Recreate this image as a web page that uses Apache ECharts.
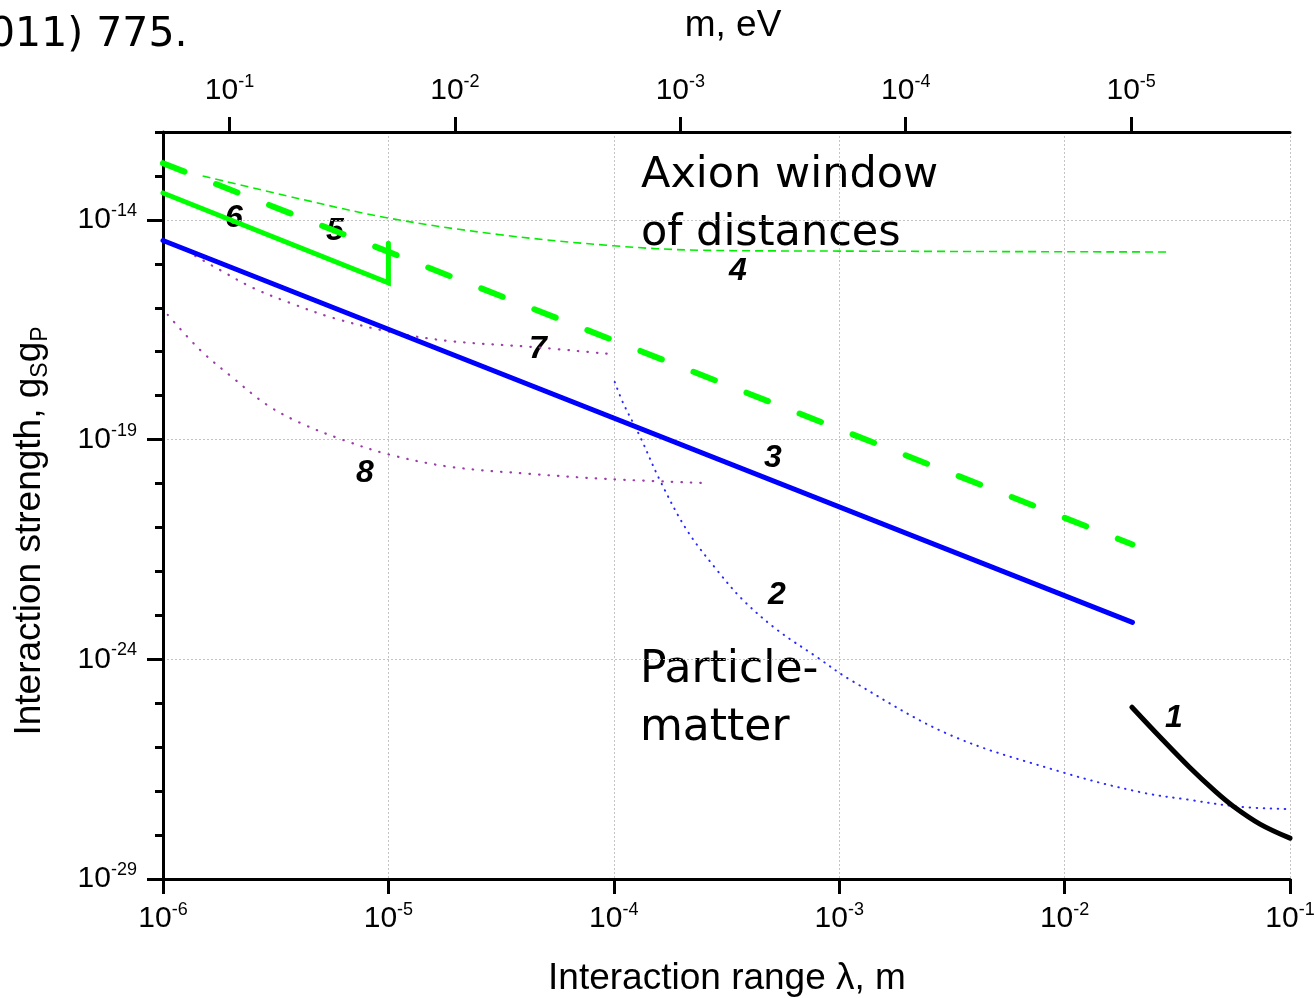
<!DOCTYPE html>
<html>
<head>
<meta charset="utf-8">
<script src="https://cdn.jsdelivr.net/npm/echarts@6/dist/echarts.min.js"></script>
<style>
html,body{margin:0;padding:0;background:#fff;}
#chart{width:1315px;height:998px;}
</style>
</head>
<body>
<div id="chart"></div>
<script>
// ---------------- data ----------------
const HBARC = 1.9733e-7; // eV·m, converts interaction range to mass
const lambdaTicks = [1e-6, 1e-5, 1e-4, 1e-3, 1e-2, 1e-1];
const massTicks = [1e-1, 1e-2, 1e-3, 1e-4, 1e-5];
const strengthMajorTicks = [1e-29, 1e-24, 1e-19, 1e-14];
const strengthMinorTicks = [1e-29, 1e-28, 1e-27, 1e-26, 1e-25, 1e-24, 1e-23, 1e-22, 1e-21,
  1e-20, 1e-19, 1e-18, 1e-17, 1e-16, 1e-15, 1e-14, 1e-13, 1e-12];

// [lambda (m), g_S g_P]
const curve1 = [[0.0199, 8.1e-26], [0.0265, 1.7e-26], [0.036, 3.4e-27], [0.0465, 1.0e-27],
  [0.0558, 4.6e-28], [0.0736, 1.78e-28], [0.1, 8.5e-29]];
const curve2 = [[1.01e-4, 2.04e-18], [1.10e-4, 6.8e-19], [1.31e-4, 1.15e-19], [1.60e-4, 1.2e-20],
  [2.11e-4, 8.7e-22], [2.87e-4, 1.07e-22], [3.74e-4, 2.24e-23], [5.30e-4, 4.7e-24],
  [7.97e-4, 1.12e-24], [1.12e-3, 3.4e-25], [3.10e-3, 1.9e-26], [1.0e-2, 2.6e-27],
  [2.16e-2, 9.5e-28], [3.6e-2, 6.3e-28], [6.0e-2, 4.4e-28], [0.1, 3.9e-28]];
const curve3 = [[1e-6, 3.4e-15], [0.02, 6.9e-24]];
const curve4 = [[1.5e-6, 1.0e-13], [4.06e-6, 3.0e-14], [1e-5, 1.10e-14], [3.13e-5, 4.6e-15],
  [1e-4, 2.57e-15], [2.41e-4, 2.04e-15], [1e-3, 1.95e-15], [0.0288, 1.86e-15]];
const curve5 = [[1e-6, 1.95e-13], [0.02, 4.1e-22]];
const curve6 = [[1e-6, 4.1e-14], [1e-5, 3.7e-16], [1e-5, 2.95e-15]];
const curve7 = [[1.39e-6, 1.51e-15], [1.79e-6, 7.24e-16], [2.51e-6, 2.82e-16], [3.66e-6, 1.29e-16],
  [5.67e-6, 5.89e-17], [1.02e-5, 2.82e-17], [1.88e-5, 1.74e-17], [4.25e-5, 1.29e-17],
  [9.6e-5, 8.9e-18]];
const curve8 = [[1.05e-6, 6.9e-17], [1.46e-6, 1.10e-17], [2.05e-6, 2.5e-18], [2.89e-6, 6.2e-19],
  [4.06e-6, 2.4e-19], [6.3e-6, 9.8e-20], [1.02e-5, 4.5e-20], [1.88e-5, 2.4e-20],
  [4.25e-5, 1.66e-20], [9.6e-5, 1.26e-20], [2.62e-4, 1.02e-20]];

// ---------------- chart ----------------
const FONT = 'Liberation Sans, Arial, sans-serif';
const HAND = 'DejaVu Sans, sans-serif';
function sci(v) {
  const e = Math.round(Math.log10(v));
  return '10{s|' + e + '}';
}
const tickRich = {
  s: { fontSize: 18, fontFamily: FONT, color: '#000', lineHeight: 18, verticalAlign: 'top' }
};
function tickLabel(values, margin) {
  return {
    show: true, customValues: values, formatter: sci, rich: tickRich, margin: margin,
    fontSize: 30, fontFamily: FONT, color: '#000', lineHeight: 36
  };
}
const axisLine = { show: true, onZero: false, lineStyle: { color: '#000', width: 3 } };
const gridLine = { show: true, lineStyle: { color: '#c4c4c4', width: 1, type: [2, 2] } };
function ticks(values, len) {
  return { show: true, inside: false, length: len, lineStyle: { color: '#000', width: 3 }, customValues: values };
}

function lineSeries(name, data, style, smooth) {
  return {
    name: name, type: 'line', data: data, xAxisIndex: 0, yAxisIndex: 0,
    showSymbol: false, symbol: 'none', smooth: smooth ? 0.35 : false,
    lineStyle: style, silent: true, animation: false
  };
}

const chart = echarts.init(document.getElementById('chart'), null, { renderer: 'canvas' });

function text(x, y, str, size, opts) {
  return Object.assign({
    type: 'text', x: x, y: y, silent: true,
    style: Object.assign({
      text: str, fontSize: size, fontFamily: FONT, fill: '#000',
      align: 'center', verticalAlign: 'middle'
    }, (opts && opts.style) || {})
  }, (opts && opts.el) || {});
}
const numStyle = { style: { fontWeight: 'bold', fontStyle: 'italic' } };

chart.setOption({
  backgroundColor: '#fff',
  animation: false,
  grid: { left: 163, right: 25, top: 132, bottom: 119, containLabel: false, outerBoundsMode: 'none' },
  xAxis: [
    {
      type: 'log', position: 'bottom', min: 1e-6, max: 1e-1,
      axisLine: axisLine,
      axisTick: ticks(lambdaTicks, 15),
      axisLabel: tickLabel(lambdaTicks, 22),
      splitLine: gridLine
    },
    {
      type: 'log', position: 'top', inverse: true, min: HBARC / 1e-1, max: HBARC / 1e-6,
      axisLine: axisLine,
      axisTick: ticks(massTicks, 15),
      axisLabel: tickLabel(massTicks, 23),
      splitLine: { show: false }
    }
  ],
  yAxis: [
    {
      type: 'log', position: 'left', min: 1e-29, max: 1e-12,
      axisLine: axisLine,
      axisTick: ticks(strengthMajorTicks, 16),
      axisLabel: tickLabel(strengthMajorTicks, 26),
      splitLine: gridLine
    },
    {
      type: 'log', position: 'left', min: 1e-29, max: 1e-12,
      axisLine: { show: false, onZero: false },
      axisTick: ticks(strengthMinorTicks, 8),
      axisLabel: { show: false },
      splitLine: { show: false }
    }
  ],
  series: [
    lineSeries('8', curve8, { color: '#9b3fa8', width: 2.2, type: [0.5, 9], cap: 'round' }, true),
    lineSeries('7', curve7, { color: '#9b3fa8', width: 2.2, type: [0.5, 9], cap: 'round' }, true),
    lineSeries('2', curve2, { color: '#2a2aff', width: 2, type: [0.5, 6.5], cap: 'round' }, true),
    lineSeries('4', curve4, { color: '#00ee00', width: 1.6, type: [8, 5] }, true),
    lineSeries('3', curve3, { color: '#0000ff', width: 5, cap: 'round' }, false),
    lineSeries('6', curve6, { color: '#00ff00', width: 5, cap: 'round', join: 'miter' }, false),
    lineSeries('5', curve5, { color: '#00ff00', width: 6, type: [23, 34], cap: 'round' }, false),
    lineSeries('1', curve1, { color: '#000000', width: 5, cap: 'round' }, true)
  ],
  graphic: [
    text(-11, 35, '011) 775.', 41, { style: { fontFamily: HAND, align: 'left' } }),
    text(733, 26, 'm, eV', 37),
    text(727, 979, 'Interaction range λ, m', 37),
    {
      type: 'text', x: 30, y: 531, rotation: Math.PI / 2, silent: true,
      style: {
        text: '{a|Interaction strength, g}{sub|S}{a|g}{sub|P}',
        align: 'center', verticalAlign: 'middle',
        rich: {
          a: { fontSize: 37, fontFamily: FONT, fill: '#000', lineHeight: 44 },
          sub: { fontSize: 23, fontFamily: FONT, fill: '#000', lineHeight: 30, verticalAlign: 'bottom' }
        }
      }
    },
    text(641, 176, 'Axion window', 43, { style: { fontFamily: HAND, align: 'left' } }),
    text(641, 234, 'of distances', 43, { style: { fontFamily: HAND, align: 'left' } }),
    text(640, 671, 'Particle-', 44, { style: { fontFamily: HAND, align: 'left' } }),
    text(640, 729, 'matter', 44, { style: { fontFamily: HAND, align: 'left' } }),
    text(1174, 718, '1', 32, numStyle),
    text(777, 595, '2', 32, numStyle),
    text(773, 458, '3', 32, numStyle),
    text(738, 271, '4', 32, numStyle),
    text(335, 231, '5', 32, numStyle),
    text(234, 218, '6', 32, numStyle),
    text(538, 349, '7', 32, numStyle),
    text(365, 473, '8', 32, numStyle)
  ]
});
</script>
</body>
</html>
